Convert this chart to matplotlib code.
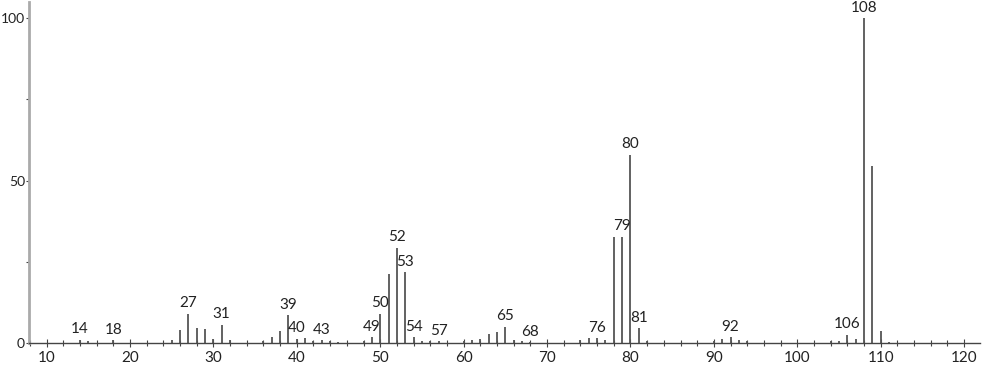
import matplotlib
matplotlib.use("Agg")
import matplotlib.pyplot as plt
from matplotlib.ticker import MultipleLocator

# m/z values and relative intensities
mz = [14, 15, 18, 25, 26, 27, 28, 29, 30, 31, 32, 36, 37, 38, 39, 40, 41, 42, 43, 44, 45,
      48, 49, 50, 51, 52, 53, 54, 55, 56, 57, 60, 61, 62, 63, 64, 65, 66, 67, 68,
      74, 75, 76, 77, 78, 79, 80, 81, 82, 90, 91, 92, 93, 94,
      104, 105, 106, 107, 108, 109, 110, 111]
intensity = [1.0, 0.7, 0.9, 0.8, 3.9, 9.0, 4.6, 4.2, 1.2, 5.6, 0.8, 0.7, 1.95, 3.7, 8.6, 1.3, 1.4, 0.6, 0.9, 0.6, 0.4,
             0.5, 1.85, 9.0, 21.4, 29.4, 21.8, 1.7, 0.7, 0.6, 0.5, 0.7, 0.9, 1.3, 2.9, 3.4, 5.0, 0.9, 0.5, 0.3,
             0.8, 1.4, 1.5, 0.9, 32.5, 32.7, 58.0, 4.5, 0.7, 0.6, 1.1, 1.85, 0.8, 0.5,
             0.6, 0.6, 2.6, 1.2, 100.0, 54.4, 3.7, 0.4]
labeled_mz = [14, 18, 27, 31, 39, 40, 43, 49, 50, 52, 53, 54, 57, 65, 68, 76, 79, 80, 81, 92, 106, 108]

x_major = [10, 20, 30, 40, 50, 60, 70, 80, 90, 100, 110, 120]
y_major = [0, 50, 100]

plt.rcParams['font.family'] = ['Lato', 'DejaVu Sans']

fig = plt.figure(figsize=(9.82, 3.65), dpi=100)
ax = fig.add_axes([29 / 982, 22 / 365, 951 / 982, 341 / 365])

ax.vlines(mz, 0, intensity, colors='#555555', linewidth=1.3)

lookup = dict(zip(mz, intensity))
for m in labeled_mz:
    ax.annotate(str(m), (m, lookup[m]), xytext=(0, 2.5), textcoords='offset points',
                ha='center', va='bottom', fontsize=11, color='#222222')

ax.set_xlim(7.9, 121.9)
ax.set_ylim(0, 105)

ax.set_xticks(x_major)
ax.set_yticks(y_major)
ax.xaxis.set_minor_locator(MultipleLocator(2))
ax.yaxis.set_minor_locator(MultipleLocator(25))

ax.tick_params(axis='x', which='major', direction='inout', length=6, width=0.8,
               colors='#444444', labelcolor='#222222', labelsize=11, pad=2.5)
ax.tick_params(axis='x', which='minor', direction='inout', length=4, width=0.8, colors='#444444')
ax.tick_params(axis='y', which='major', direction='out', length=2.5, width=0.8,
               colors='#444444', labelcolor='#222222', labelsize=10, pad=0.3)
ax.tick_params(axis='y', which='minor', direction='out', length=2, width=0.8, colors='#444444')

for s in ['top', 'right']:
    ax.spines[s].set_visible(False)
ax.spines['left'].set_color('#aaaaaa')
ax.spines['left'].set_linewidth(2)
ax.spines['bottom'].set_color('#444444')
ax.spines['bottom'].set_linewidth(1)

fig.savefig('out.png', dpi=100)
